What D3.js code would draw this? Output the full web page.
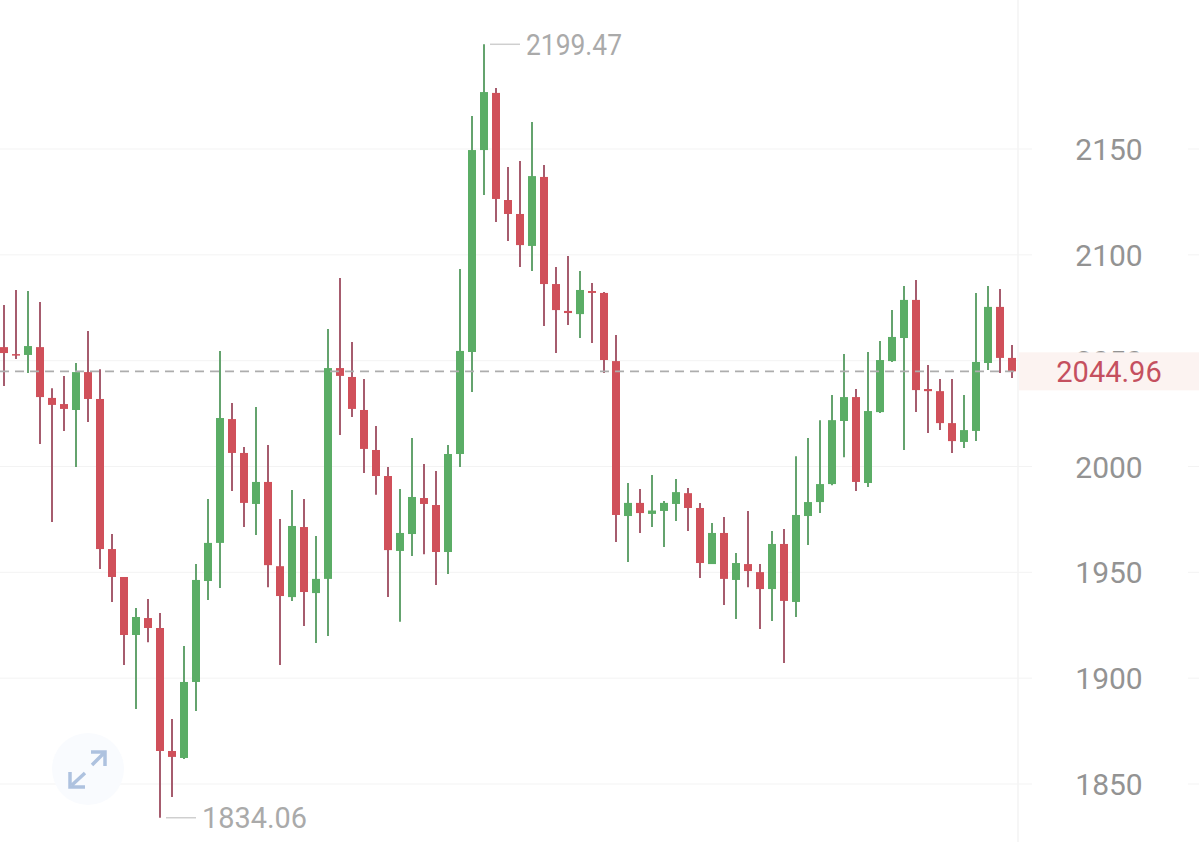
<!DOCTYPE html>
<meta charset="utf-8">
<style>
  html, body { margin: 0; padding: 0; background: #fff; overflow: hidden; }
  text { font-family: Roboto, sans-serif; }
</style>
<script src="https://d3js.org/d3.v7.min.js"></script>
<div id="my_dataviz"></div>
<script>
// values, left to right
var open = [2056.4,2053.1,2052.7,2056.4,2032.4,2029.5,2026.7,2044.6,2031.9,1961.0,1947.8,1920.4,1928.4,1923.7,1865.6,1862.3,1898.2,1945.9,1963.9,2022.4,2006.4,1982.3,1992.7,1952.9,1938.3,1971.4,1940.2,1946.9,2046.5,2042.3,2026.7,2007.8,1995.5,1960.1,1968.1,1985.1,1981.8,1959.6,2005.9,2054.1,2149.5,2176.5,2125.9,2119.3,2104.2,2136.8,2086.2,2073.5,2072.0,2082.9,2082.0,2049.8,1976.6,1982.8,1977.6,1979.0,1982.3,1987.4,1980.4,1953.9,1968.6,1946.4,1953.9,1950.1,1942.1,1963.4,1936.0,1976.6,1983.2,1991.7,2021.5,2032.8,1992.2,2025.7,2049.8,2060.7,2078.7,2036.6,2035.6,2020.5,2011.6,2016.8,2048.9,2075.4,2051.3];
var close = [2053.6,2052.7,2056.9,2032.8,2029.1,2027.2,2044.6,2031.9,1961.0,1947.8,1920.4,1928.9,1923.7,1865.6,1862.8,1898.2,1946.4,1963.9,2022.9,2006.4,1982.8,1992.7,1953.4,1938.8,1971.9,1940.7,1946.9,2046.5,2042.8,2027.2,2008.3,1995.5,1960.5,1968.6,1985.6,1982.3,1959.6,2005.9,2054.6,2149.5,2176.9,2126.4,2119.3,2104.6,2137.2,2086.2,2073.9,2072.5,2083.4,2082.0,2050.3,1977.1,1982.8,1978.0,1979.2,1982.8,1987.9,1980.4,1954.4,1968.6,1946.9,1954.4,1950.6,1942.1,1963.4,1936.5,1977.1,1983.2,1991.7,2021.9,2032.8,1992.7,2026.2,2050.3,2061.2,2078.7,2036.1,2035.6,2020.5,2012.0,2017.2,2049.4,2075.4,2051.3,2044.96];
var high = [2076.3,2083.4,2082.9,2077.7,2037.0,2042.8,2048.9,2064.0,2046.0,1968.1,1947.8,1933.1,1937.4,1930.8,1880.7,1915.2,1953.9,1984.6,2054.6,2030.0,2009.2,2028.1,2010.2,1975.2,1988.9,1984.6,1967.2,2065.0,2089.1,2058.8,2041.3,2019.1,1999.8,1989.4,2013.5,2001.2,1997.9,2010.2,2093.3,2165.6,2199.47,2178.8,2141.5,2144.3,2162.8,2142.4,2094.2,2099.4,2092.4,2086.7,2082.4,2062.1,1992.2,1989.4,1996.0,1983.7,1994.1,1989.8,1982.8,1973.3,1976.1,1959.1,1979.0,1953.9,1969.5,1970.5,2004.9,2013.5,2021.9,2033.8,2053.1,2036.6,2054.1,2059.3,2073.9,2085.3,2088.1,2047.9,2041.3,2041.3,2033.8,2082.0,2085.3,2083.9,2057.4];
var low = [2038.0,2050.8,2044.2,2010.6,1973.8,2016.8,1999.8,2021.0,1951.6,1936.0,1906.2,1885.4,1917.0,1834.06,1843.9,1861.8,1884.5,1936.9,1942.6,1988.4,1971.4,1967.6,1943.0,1906.2,1936.5,1924.7,1916.6,1919.9,2014.9,2023.4,1996.9,1986.6,1938.3,1926.6,1957.7,1958.6,1944.0,1949.2,1999.8,2035.2,2128.3,2115.5,2106.5,2094.2,2092.4,2066.4,2053.6,2066.8,2060.7,2058.3,2044.2,1964.3,1954.9,1968.6,1971.4,1962.0,1974.2,1969.5,1947.3,1953.9,1934.6,1928.0,1943.0,1923.2,1927.0,1907.2,1928.9,1962.9,1978.0,1991.2,2004.4,1988.4,1990.3,2025.3,2049.4,2007.8,2025.7,2015.8,2017.2,2006.4,2008.7,2012.0,2045.6,2044.2,2041.8];
var tickValues = [1850,1900,1950,2000,2050,2100,2150];
var lastPrice = 2044.96, maxPrice = 2199.47, minPrice = 1834.06;
var maxIndex = high.indexOf(maxPrice), minIndex = low.indexOf(minPrice);

var width = 1199, height = 842, axisX = 1018;

var svg = d3.select("#my_dataviz").append("svg")
  .attr("width", width)
  .attr("height", height)
  .style("display", "block");

var x = d3.scaleBand()
  .domain(d3.range(open.length))
  .range([-2, axisX])
  .paddingInner(1 / 3)
  .paddingOuter(1 / 6);
var y = d3.scaleLinear().domain([1850, 2150]).range([784, 149]);
var cx = function(i) { return x(i) + x.bandwidth() / 2; };

// grid, broken around the tick labels, + right axis line
[[0, 1032], [1188, width]].forEach(function(seg) {
  svg.selectAll(".grid" + seg[0]).data(tickValues).enter().append("line")
    .attr("class", "grid" + seg[0])
    .attr("x1", seg[0]).attr("x2", seg[1])
    .attr("y1", function(d) { return y(d); })
    .attr("y2", function(d) { return y(d); })
    .attr("stroke", "#f3f3f3").attr("stroke-width", 1);
});
svg.append("line")
  .attr("x1", axisX).attr("x2", axisX).attr("y1", 0).attr("y2", height)
  .attr("stroke", "#f3f3f3").attr("stroke-width", 1.5);

// tick labels
var axis = svg.append("g")
  .attr("transform", "translate(1109,1)")
  .call(d3.axisRight(y).tickValues(tickValues).tickSize(0).tickPadding(0).tickFormat(d3.format("d")));
axis.select(".domain").remove();
axis.selectAll("text")
  .attr("text-anchor", "middle")
  .attr("font-family", "Roboto, sans-serif")
  .attr("font-size", 30)
  .attr("fill", "#939393");

// candles
var candle = svg.selectAll(".candle").data(d3.range(open.length)).enter().append("g").attr("class", "candle");
candle.append("line")
  .attr("x1", cx).attr("x2", cx)
  .attr("y1", function(i) { return y(high[i]); })
  .attr("y2", function(i) { return y(low[i]); })
  .attr("stroke", function(i) { return close[i] > open[i] ? "#64a36e" : "#a65c6e"; })
  .attr("stroke-width", 2);
candle.append("rect")
  .attr("x", function(i) { return x(i); })
  .attr("width", x.bandwidth())
  .attr("y", function(i) { return y(Math.max(open[i], close[i])); })
  .attr("height", function(i) { return Math.max(1.5, Math.abs(y(open[i]) - y(close[i]))); })
  .attr("fill", function(i) { return close[i] > open[i] ? "#5bad66" : "#d0505a"; });

// last price
svg.append("line")
  .attr("x1", 0).attr("x2", axisX)
  .attr("y1", y(lastPrice)).attr("y2", y(lastPrice))
  .attr("stroke", "#adadad").attr("stroke-width", 1.8)
  .attr("stroke-dasharray", "9,6");
svg.append("rect")
  .attr("x", axisX + 1).attr("y", y(lastPrice) - 19)
  .attr("width", width - axisX).attr("height", 38)
  .attr("fill", "#fcf3f1");
svg.append("text")
  .attr("x", 1109).attr("y", y(lastPrice))
  .attr("dy", "0.36em")
  .attr("text-anchor", "middle")
  .attr("font-size", 29)
  .attr("fill", "#c5505f")
  .text(lastPrice.toFixed(2));

// max / min markers
[[maxIndex, maxPrice, 96], [minIndex, minPrice, 105]].forEach(function(m) {
  var x0 = cx(m[0]);
  svg.append("line")
    .attr("x1", x0 + 6).attr("x2", x0 + 36)
    .attr("y1", y(m[1])).attr("y2", y(m[1]))
    .attr("stroke", "#cfcfcf").attr("stroke-width", 1.5);
  svg.append("text")
    .attr("x", x0 + 42).attr("y", y(m[1]))
    .attr("dy", "0.36em")
    .attr("font-size", 29)
    .attr("textLength", m[2])
    .attr("lengthAdjust", "spacingAndGlyphs")
    .attr("fill", "#aaa")
    .text(m[1].toFixed(2));
});

// expand button
var btn = svg.append("g").attr("transform", "translate(88,769)");
btn.append("circle").attr("r", 36).attr("fill", "#f9fbfe");
btn.append("path")
  .attr("d", "M4,-4L17,-17M3,-17L17,-17L17,-3M-3,4L-16,16M-18,3L-18,18L-3,18")
  .attr("fill", "none")
  .attr("stroke", "#aec2df")
  .attr("stroke-width", 3.5);
</script>
